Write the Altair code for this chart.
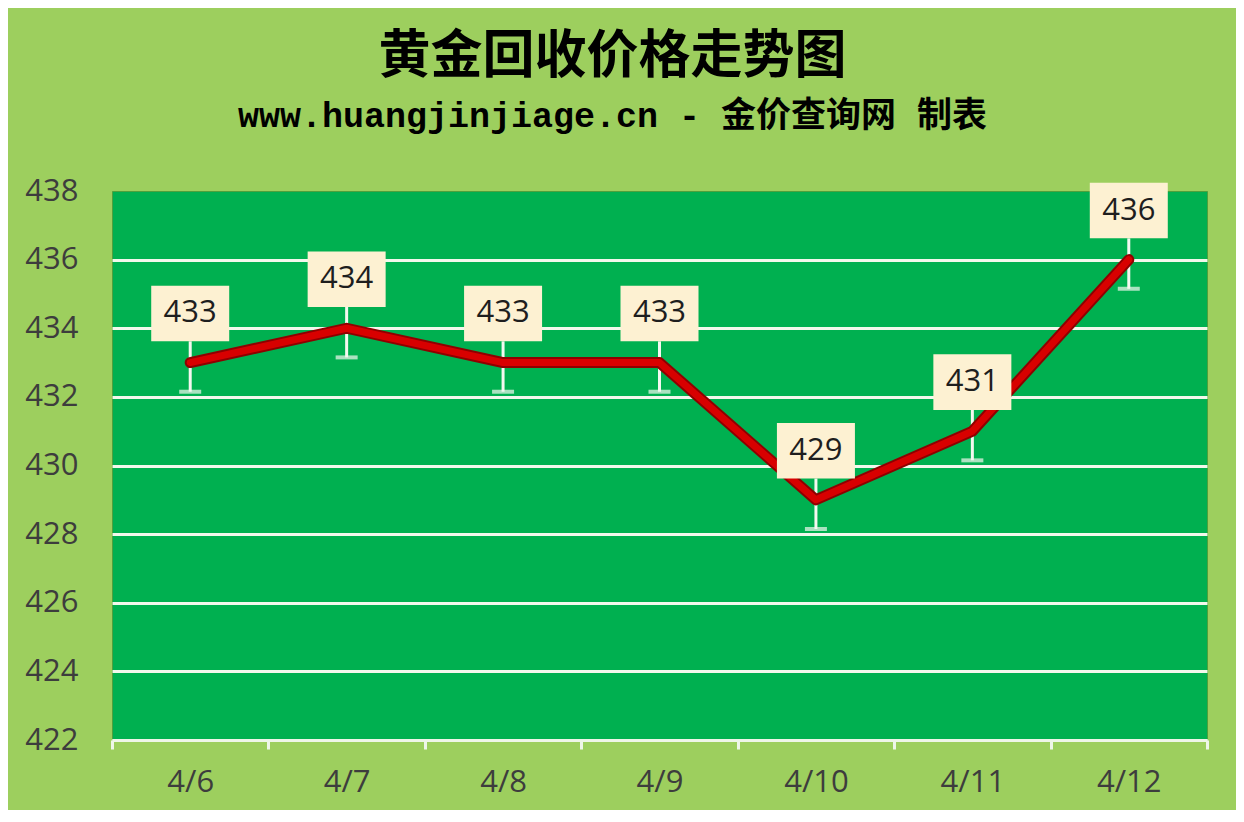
import altair as alt
import pandas as pd

dates = ["4/6", "4/7", "4/8", "4/9", "4/10", "4/11", "4/12"]
prices = [433, 434, 433, 433, 429, 431, 436]
y_ticks = [422, 424, 426, 428, 430, 432, 434, 436, 438]
err = 0.85

title_text = "黄金回收价格走势图"
subtitle_text = "www.huangjinjiage.cn - 金价查询网 制表"

df = pd.DataFrame({"date": dates, "price": prices})

x_enc = alt.X(
    "date:N",
    sort=dates,
    scale=alt.Scale(type="band", paddingInner=0, paddingOuter=0),
    axis=alt.Axis(
        title=None,
        labelAngle=0,
        labelFont="Open Sans",
        labelFontSize=31,
        labelColor="#3d3d3d",
        labelPadding=18,
        tickBand="extent",
        tickSize=9,
        tickWidth=3,
        tickColor="#EEF6E8",
        domainColor="#EEF6E8",
        domainWidth=3,
        grid=False,
    ),
)

y_scale = alt.Scale(domain=[422, 438], nice=False, zero=False)

base = alt.Chart(df).transform_calculate(
    lo=f"datum.price - {err}",
    boxlo="datum.price + 0.62",
    boxhi="datum.price + 2.24",
    labely="datum.price + 1.43",
)

errbar = base.mark_rule(color="#F4F8F0", strokeWidth=3).encode(
    x=x_enc,
    y=alt.Y(
        "lo:Q",
        scale=y_scale,
        axis=alt.Axis(
            title=None,
            values=y_ticks,
            labelFont="Open Sans",
            labelFontSize=31,
            labelColor="#3d3d3d",
            labelPadding=34,
            ticks=False,
            domain=False,
            grid=True,
            gridColor={"condition": {"test": "datum.value === 438", "value": "transparent"}, "value": "#F2F8EC"},
            gridWidth=3,
        ),
    ),
    y2="boxlo:Q",
)

caps = base.mark_tick(color="#F4F8F0", thickness=4, size=22).encode(
    x=x_enc, y=alt.Y("lo:Q", scale=y_scale)
)

line_edge = base.mark_line(color="#8E0000", strokeWidth=11, strokeJoin="round", strokeCap="round").encode(
    x=x_enc, y=alt.Y("price:Q", scale=y_scale)
)
line = base.mark_line(color="#D80000", strokeWidth=7, strokeJoin="round", strokeCap="round").encode(
    x=x_enc, y=alt.Y("price:Q", scale=y_scale)
)

boxes = base.mark_bar(color="#FDF1D2", width=78).encode(
    x=x_enc, y=alt.Y("boxlo:Q", scale=y_scale), y2="boxhi:Q"
)

labels = base.mark_text(font="Open Sans", fontSize=31, color="#1e1e1e", baseline="middle").encode(
    x=x_enc, y=alt.Y("labely:Q", scale=y_scale), text="price:Q"
)

chart = (
    alt.layer(errbar, caps, line_edge, line, boxes, labels)
    .properties(
        width=1095,
        height=549,
        padding={"left": 104, "top": 183, "right": 29, "bottom": 70},
        autosize=alt.AutoSizeParams(type="none"),
        title=alt.TitleParams(
            text=title_text,
            subtitle=subtitle_text,
            anchor="middle",
            dx=-47,
            font="Noto Sans CJK SC",
            fontSize=52,
            fontWeight="bold",
            color="#000000",
            subtitleFont="Liberation Mono, Noto Sans CJK SC",
            subtitleFontSize=35,
            subtitleFontWeight="bold",
            subtitleColor="#000000",
            subtitlePadding=15,
            offset=40,
        ),
    )
    .configure(background="#9DCF5E")
    .configure_view(fill="#00B050", stroke="#4FA03C", strokeWidth=1)
)

chart.save("out.html", embed_options={"renderer": "svg", "actions": False})
